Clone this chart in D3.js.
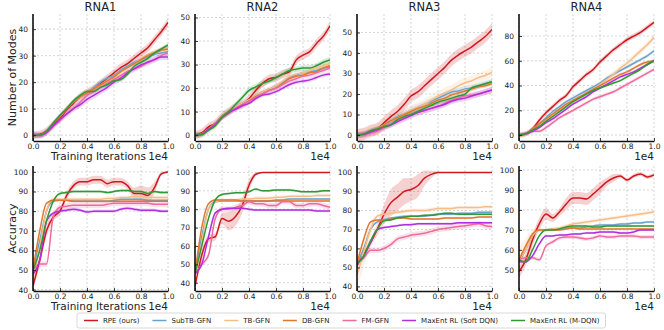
<!DOCTYPE html>
<html>
<head>
<meta charset="utf-8">
<script src="https://cdn.jsdelivr.net/npm/d3@7"></script>
<style>
body { margin: 0; background: #fff; }
text { font-family: "DejaVu Sans", sans-serif; fill: #222; }
</style>
</head>
<body>
<svg id="chart" width="664" height="330"></svg>
<script>
// x values (training iterations)
const iters = [0,500,1000,1500,2000,2500,3000,3500,4000,4500,5000,5500,6000,6500,7000,7500,8000,8500,9000,9500,10000];
const methods = ["RPE (ours)", "SubTB-GFN", "TB-GFN", "DB-GFN", "FM-GFN", "MaxEnt RL (Soft DQN)", "MaxEnt RL (M-DQN)"];
const colors = ["#d0181f", "#6aa3cf", "#f5bd88", "#e2772f", "#ef6b9d", "#b12fe0", "#2f9a35"];
const tasks = ["RNA1", "RNA2", "RNA3", "RNA4"];
const xTicks = [0, 2000, 4000, 6000, 8000, 10000];

// number of modes, series in method order
const rna1Modes = [
  [0,0.3,1.5,4,6.5,9.5,12,14.5,16,17.5,19.5,21.5,23.5,25.5,27,29,31,33,36,39,42.5],
  [0,0,1.5,4.5,7.5,10,12.5,14.5,16,18,20,21.5,22.5,24.5,26,27.5,28.5,29.5,30.5,31,31.5],
  [0,0,1.5,4.5,7,10,12.5,14.5,16,17.5,19,20.5,22,24,25.5,27,29,30.5,31.5,32.5,33],
  [0,0,1.5,4.5,7,10,12.5,14.5,16,17.5,19,20.5,22,24,25.5,27,28.5,30,31,32,32.5],
  [0,0,1,3.5,5.5,8,10,12.5,15,16.5,18,19.5,21,22.5,24,25,26,27.5,28.5,30,31],
  [0,0,1,3.5,6,8,10,11.5,13.5,15,16.5,18,20,21.5,23.5,25,26.5,27.5,28.5,29.5,29.5],
  [0,0,1.5,4.5,7.5,10,13,15,16.5,16.5,18,19,20.5,21,23,26,27.5,29,31,32.5,34]
];
const rna2Modes = [
  [0,1,3.5,5,8,10,12,13,15.5,19,22,24,24.5,26,27,32,34,35.5,39,42,46.5],
  [0,0.5,2.5,5,8,10,12,13.5,15,17,18.5,19.5,21,22.5,24.5,25.5,26.5,27,27.5,28.5,29],
  [0,0.5,2.5,5,8,10,12,13.5,15,17,18.5,19.5,21,23,25,26,26.5,27.5,28.5,29.5,30.5],
  [0,0.5,2.5,5,8,10,11.5,13,14.5,16.5,17.5,19,20,22,24,25,25.5,26.5,27,28.5,29.5],
  [0,0.5,2.5,4.5,7.5,9.5,11.5,13,14.5,16,17.5,19,20,21.5,23,24,25,25.5,26.5,27.5,28.5],
  [0,0.5,2.5,4.5,7.5,9.5,11,12.5,13.5,15.5,17,17.5,18.5,20,21.5,22.5,23,23.5,24.5,25.5,26],
  [0,0.2,2,4,7.5,10,13,16,19,20.5,22,23,24.5,26,27.5,28,28.5,28.5,29.5,31,32]
];
const rna3Modes = [
  [0,0.5,2,3,6,9,11.5,15,19,21,24,27,30,33,36.5,39,41,43,45.5,48,51.5],
  [0,0.5,2,3,5,7,9,10.5,12,13.5,15,16.5,18,19.5,21,21.5,22.5,23,24,25,26],
  [0,0.5,2,3,5,7,8.5,10.5,12,13.5,15,17,19,20.5,22,24,25.5,26.5,28,29,30.5],
  [0,0.5,2,3,5,7,8.5,10,11.5,13,14,15.5,17,18,19.5,20.5,21.5,22.5,23.5,24,25],
  [0,0.3,1,2,3.5,5,7,8.5,10,11,12,13,14,15.5,17,18,19,19.5,20,21,22],
  [0,0.3,1.5,2.5,4,5,6.5,8,9.5,11,12,13,14,15,16.5,17.5,18,19,20,21,22],
  [0,0.5,2,3,4,5,7.5,9,10,11.5,13,14.5,16,17,18,19,20,23,24,25,26]
];
const rna4Modes = [
  [0,1,5,12,18,23,28,32,39,44,49,53,59,64,69,73,77,80,83,87,91],
  [0,1,5,9,14,19,23,27,30,33,36,39,42,46,49,52,55,58,61,64,68],
  [0,1,4,8,12,16,20,24,27,30,33,37,41,45,49,54,58,63,68,73,79],
  [0,1,5,9,13,17,21,25,28,31,34,37,40,43,46,49,51,54,57,59,60],
  [0,1,3,3,6,10,14,17,20,23,26,29,31,33,35,38,41,44,47,50,53],
  [0,1,3,6,10,13,17,21,25,28,31,35,38,41,44,47,49,51,54,57,60],
  [0,1,4,7,11,15,19,23,27,30,33,36,38,40,42,44,47,50,53,57,60]
];
const rna1ModesBand = [1.5, 0.8, 0.8, 0.8, 0.8, 1.2, 0.8];
const rna2ModesBand = [1.8, 0.8, 1, 0.8, 1, 0.8, 1.2];
const rna3ModesBand = [3, 1.5, 2.5, 1, 1.5, 1.5, 1];
const rna4ModesBand = [2, 1.5, 2.5, 1.2, 1.5, 1.2, 1];

// accuracy, series in method order
const rna1Acc = [
  [42,55,70,77,80,88,93,95,95,96,96,94,95,95,93,89,89,88,92,99,100],
  [50,65,80,85,85.5,85.5,85,85,85,85,85,85,85.5,86,86,86,86,85.5,85.5,85.5,85.5],
  [45,62,80,86,86,86,86,86,86,86,86,86.5,86.5,87,87,87.5,87.5,87,87,87,87],
  [50,70,84,85.5,85.5,85.5,85,85,85,85,85,85,85,85,85,85,85,85,85,85,85],
  [50,53,53,77,82,82.5,83,83,83,83,83,83.5,84,84,84,84,84,84,83.5,83.5,83.5],
  [48,55,75,79,80,80.5,81,80.5,79.5,80,80,80,80,81,81.5,81,80.5,80.5,80.5,80,80],
  [50,60,75,85,89,89.5,90,90,90,90,90,89.5,90,90.5,90.5,90,90,89,90,89.5,89.5]
];
const rna2Acc = [
  [38,55,64,65,75,73.5,76,82,93,99,100,100,100,100,100,100,100,100,100,100,100],
  [45,65,80,84,84.5,84.5,84.5,84.5,84.5,84.5,84.5,84.5,85,85,85.5,85.5,85.5,85.5,85.5,85.5,85.5],
  [42,62,80,84,85,85,85,85.5,85.5,86,86,86,86.5,86.5,87,87,87,87,87.5,87.5,87.5],
  [45,70,83,85,85,85,85,84.5,84.5,84.5,84.5,84.5,84.5,84.5,84.5,84.5,84.5,84.5,84.5,84.5,84.5],
  [45,50,55,75,80,80,81,82,84,83,83,82,82,84,84,82,82,83,83,82,81],
  [45,50,65,78,80,80.5,80.5,80.5,80,79.5,79.5,79.5,79.5,79.5,79.5,79.5,79.5,79.5,79,79,79],
  [45,60,75,85,88,88.5,89,89,89.5,91,90,90,90.5,90.5,90.5,90,89.5,89.5,89.5,90,90]
];
const rna3Acc = [
  [51,57,63,70,78,84,87,90,91,93,97,99,100,100,100,100,100,100,100,100,100],
  [52,60,70,74,75,76,76.5,77,77,77,77,77.5,78,78,78,78.5,78.5,78.5,79,79,79],
  [46,58,70,77,78,78.5,79,79.5,80,80,80,80.5,81,81,81,81.5,81.5,81.5,81.5,82,82],
  [52,65,74,75,75,75.5,76,76,75.5,75.5,75.5,75.5,75.5,76,76,76,76,76,76.5,76.5,76.5],
  [52,55,59,59,60,62,65,66,67,67.5,68,69,70,70.5,71,71.5,72,72.5,73,72,71.5],
  [52,56,63,70,71,71.5,72,72.5,72.5,73,73,73,73,73,73,73.5,73.5,73.5,73.5,73.5,73.5],
  [52,56,64,70,74.5,75,76,76.5,77,77,77.5,77.5,78,78.5,78.5,78,78,78,78,78,78]
];
const rna4Acc = [
  [49,55,65,73,78,76,79,83,86,86,85.5,88,91,94,96,97,95,97,98,96.5,97.5],
  [54,60,67,70,70,70.5,70.5,71,71,71,71.5,72,72.5,72.5,72.5,73,73,73.5,73.5,74,74],
  [55,60,67,70,70,70.5,71,72,73,73.5,74,74.5,75,75.5,76,76.5,77,77.5,78,78.5,79],
  [55,62,68,70,70,70,70,70.5,71,70.5,70.5,70.5,70.5,70.5,70.5,70.5,70.5,70.5,70.5,70.5,70.5],
  [55,56,56,55,62,64,66,66.5,66.5,66,65.5,66,67,66.5,66.5,67,67,67,66.5,66.5,66.5],
  [54,54,57,63,67,67,67.5,67.5,68,68,68.5,68.5,69,69,69,68.5,68.5,69,70,70,70],
  [55,54,60,67,70,70,70.5,71.5,72,72,72,71.5,71.5,72,72,72,72,72,72,72,72]
];
const rna1AccBand = [[2,3,3,2,2,2,2,2,2,2,2,2,2,2,2,3,4,4,3,1,0.5], 0.6,
  [5,5,2,1,1,1,1,1,1,1,1,1,1,1,1,1,1,1,1,1,1], 0.5, 1.5, 0.8, 0.6];
const rna2AccBand = [[2,3,2,2,3,5,5,4,3,1,0.3,0.2,0.2,0.2,0.2,0.2,0.2,0.2,0.2,0.2,0.2], 0.6,
  [4,4,2,1,1,1,1,1,1,1,1,1,1,1,1,1,1,1,1,1,1], 0.5, 1.5, 0.6, 0.6];
const rna3AccBand = [[1,2,2,3,5,7,7,7,6,6,4,2,0.5,0.2,0.2,0.2,0.2,0.2,0.2,0.2,0.2], 0.6,
  [6,8,4,1,1,1,1,1,1,1,1,1,1,1,1,1,1,1,1,1,1], 0.5, 1.5, 0.6, 0.6];
const rna4AccBand = [[3,3,3,3,3,2,2,3,3,3,3,3,3,2,2,1,1,1,1,1,1], 0.6,
  [6,6,3,1,1,1,1,1,1,1,1,1,1,1,1,1,1,1,1,1,1], 0.5, 1, 0.6, 0.6];

const modesTicks = [[0,10,20,30,40], [0,10,20,30,40,50], [0,10,20,30,40,50], [0,20,40,60,80]];
const modesLims = [[-2.2,45.7], [-2.5,51.5], [-2.9,59], [-4.8,97.8]];
const accTicks = [[40,50,60,70,80,90,100], [40,50,60,70,80,90,100], [40,50,60,70,80,90,100], [50,60,70,80,90,100]];
const accLims = [[39.3,103], [35.5,103.5], [37.6,103.4], [39.4,102]];

const modesData = [rna1Modes, rna2Modes, rna3Modes, rna4Modes];
const modesBands = [rna1ModesBand, rna2ModesBand, rna3ModesBand, rna4ModesBand];
const accData = [rna1Acc, rna2Acc, rna3Acc, rna4Acc];
const accBands = [rna1AccBand, rna2AccBand, rna3AccBand, rna4AccBand];

const svg = d3.select("#chart");
const panelLeft = [33, 195, 357, 519];
const panelW = 135;
const rows = [{top: 14, bottom: 141}, {top: 166, bottom: 291}];

function drawPanel(row, col, series, bands, ticks, lims) {
  const r = rows[row];
  const x = d3.scaleLinear().domain([0, 10000]).range([panelLeft[col], panelLeft[col] + panelW]);
  const y = d3.scaleLinear().domain(lims).range([r.bottom, r.top]);
  const g = svg.append("g");
  const clipId = "clip" + row + col;
  g.append("clipPath").attr("id", clipId).append("rect")
    .attr("x", x.range()[0]).attr("y", r.top)
    .attr("width", panelW).attr("height", r.bottom - r.top);

  // grid
  g.selectAll(".gx").data(xTicks).enter().append("line")
    .attr("x1", d => x(d)).attr("x2", d => x(d))
    .attr("y1", r.top).attr("y2", r.bottom)
    .attr("stroke", "#b8b8b8").attr("stroke-width", 0.6).attr("stroke-dasharray", "2,2");
  g.selectAll(".gy").data(ticks).enter().append("line")
    .attr("x1", x.range()[0]).attr("x2", x.range()[1])
    .attr("y1", d => y(d)).attr("y2", d => y(d))
    .attr("stroke", "#b8b8b8").attr("stroke-width", 0.6).attr("stroke-dasharray", "2,2");

  const plot = g.append("g").attr("clip-path", "url(#" + clipId + ")");
  series.forEach((vals, k) => {
    const b = bands[k];
    const bw = i => Array.isArray(b) ? b[i] : b;
    const area = d3.area()
      .x((d, i) => x(iters[i]))
      .y0((d, i) => y(d - bw(i)))
      .y1((d, i) => y(d + bw(i)))
      .curve(d3.curveMonotoneX);
    plot.append("path").datum(vals).attr("d", area)
      .attr("fill", colors[k]).attr("opacity", 0.2);
  });
  series.forEach((vals, k) => {
    const line = d3.line()
      .x((d, i) => x(iters[i]))
      .y(d => y(d))
      .curve(d3.curveMonotoneX);
    plot.append("path").datum(vals).attr("d", line)
      .attr("fill", "none").attr("stroke", colors[k]).attr("stroke-width", 1.5);
  });

  // axes
  const xAxis = d3.axisBottom(x).tickValues(xTicks).tickSizeInner(-3).tickSizeOuter(0)
    .tickPadding(3).tickFormat(d => (d / 10000).toFixed(1));
  const yAxis = d3.axisLeft(y).tickValues(ticks).tickSizeInner(-3).tickSizeOuter(0).tickPadding(5);
  const ax = g.append("g").attr("transform", "translate(0," + r.bottom + ")").call(xAxis);
  const ay = g.append("g").attr("transform", "translate(" + x.range()[0] + ",0)").call(yAxis);
  [ax, ay].forEach(a => {
    a.select(".domain").attr("stroke", "#111").attr("stroke-width", 1.6);
    a.selectAll(".tick line").attr("stroke", "#111").attr("stroke-width", 0.8);
    a.selectAll("text").attr("font-size", 7.5).attr("fill", "#222")
      .attr("font-family", "DejaVu Sans");
  });
  ay.select(".domain").attr("d", "M0," + r.bottom + "V" + r.top);

  // offset label
  g.append("text").attr("x", x.range()[1]).attr("y", r.bottom + 19)
    .attr("text-anchor", "end").attr("font-size", 10.5).text("1e4");
  if (col === 0) {
    g.append("text").attr("x", (x.range()[0] + x.range()[1]) / 2 - 2).attr("y", r.bottom + 19)
      .attr("text-anchor", "middle").attr("font-size", 10.5).text("Training Iterations");
  }
}

tasks.forEach((t, c) => {
  drawPanel(0, c, modesData[c], modesBands[c], modesTicks[c], modesLims[c]);
  drawPanel(1, c, accData[c], accBands[c], accTicks[c], accLims[c]);
  svg.append("text").attr("x", panelLeft[c] + panelW / 2).attr("y", 11)
    .attr("text-anchor", "middle").attr("font-size", 11.5).text(t);
});

svg.append("text").attr("transform", "translate(16," + (rows[0].top + rows[0].bottom) / 2 + ") rotate(-90)")
  .attr("text-anchor", "middle").attr("font-size", 11).text("Number of Modes");
svg.append("text").attr("transform", "translate(16," + (rows[1].top + rows[1].bottom) / 2 + ") rotate(-90)")
  .attr("text-anchor", "middle").attr("font-size", 11).text("Accuracy");

// legend
const leg = svg.append("g");
const box = leg.append("rect").attr("y", 313).attr("height", 15).attr("rx", 2)
  .attr("fill", "#fff").attr("stroke", "#cfcfcf").attr("stroke-width", 0.8);
let lx = 84;
methods.forEach((m, k) => {
  leg.append("line").attr("x1", lx).attr("x2", lx + 14).attr("y1", 320.5).attr("y2", 320.5)
    .attr("stroke", colors[k]).attr("stroke-width", 1.5);
  const t = leg.append("text").attr("x", lx + 19).attr("y", 323).attr("font-size", 7).text(m);
  lx += 19 + t.node().getComputedTextLength() + 13;
});
box.attr("x", 77).attr("width", lx - 13 + 6 - 77);
</script>
</body>
</html>
